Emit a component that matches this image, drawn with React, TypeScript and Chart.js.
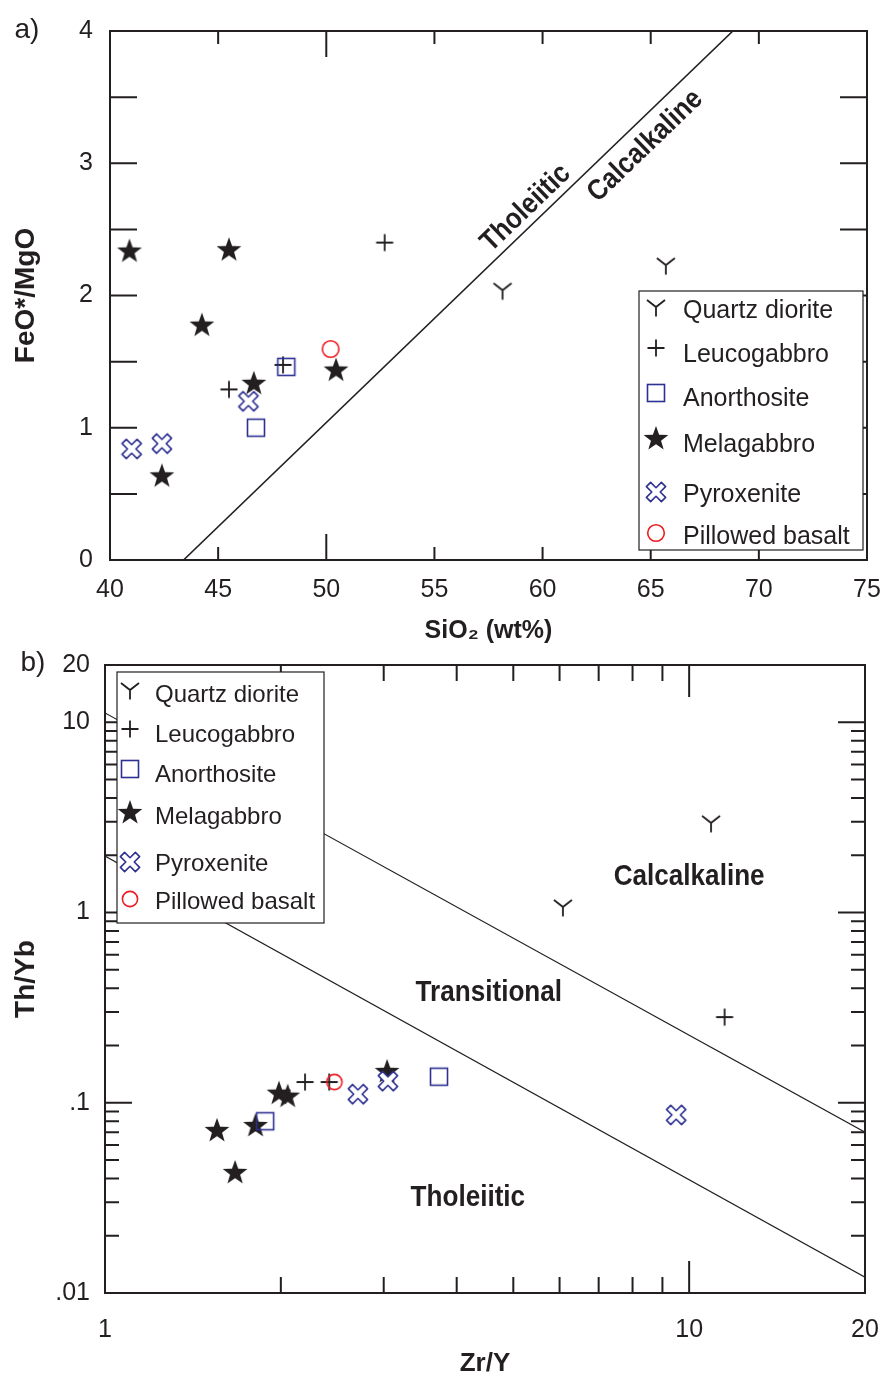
import { useEffect, useRef } from 'react';
import { Chart, registerables } from 'chart.js';

Chart.register(...registerables);

const INK = '#231F20';
const BLUE = '#2E3192';
const RED = '#ED1C24';
const FONT = "'Liberation Sans', Arial, Helvetica, sans-serif";

const SERIES_NAMES = ['Quartz diorite', 'Leucogabbro', 'Anorthosite', 'Melagabbro', 'Pyroxenite', 'Pillowed basalt'];
const SERIES_KEYS = ['quartz', 'leuco', 'anor', 'mela', 'pyro', 'pillow'];

// ---- Panel a: FeO*/MgO vs SiO2 ----
const A_QUARTZ_X = [58.15, 65.7];
const A_QUARTZ_Y = [2.04, 2.23];
const A_LEUCO_X = [52.7, 45.5, 48.0];
const A_LEUCO_Y = [2.4, 1.29, 1.475];
const A_ANOR_X = [48.15, 46.75];
const A_ANOR_Y = [1.46, 1.0];
const A_MELA_X = [40.9, 45.5, 44.25, 46.65, 50.45, 42.4];
const A_MELA_Y = [2.34, 2.35, 1.78, 1.34, 1.44, 0.64];
const A_PYRO_X = [41.0, 42.4, 46.4];
const A_PYRO_Y = [0.84, 0.88, 1.2];
const A_PILLOW_X = [50.2];
const A_PILLOW_Y = [1.595];
const A_LINE_X = [43.4, 68.8];
const A_LINE_Y = [0, 4];
const A_X_TICKS = [40, 45, 50, 55, 60, 65, 70, 75];
const A_Y_TICKS = [0, 1, 2, 3, 4];
const A_X_MARKS = [45, 50, 55, 60, 65, 70];
const A_X_LONG = [50];
const A_Y_MARKS = [0.5, 1, 1.5, 2, 2.5, 3, 3.5];

// ---- Panel b: Th/Yb vs Zr/Y ----
const B_QUARTZ_X = [10.9, 6.08];
const B_QUARTZ_Y = [2.96, 1.07];
const B_LEUCO_X = [11.5, 2.2, 2.42];
const B_LEUCO_Y = [0.282, 0.1285, 0.1285];
const B_ANOR_X = [1.88, 3.73];
const B_ANOR_Y = [0.08, 0.137];
const B_MELA_X = [1.555, 1.67, 1.81, 1.985, 2.055, 3.04];
const B_MELA_Y = [0.072, 0.0433, 0.0764, 0.113, 0.109, 0.147];
const B_PYRO_X = [2.71, 3.05, 9.5];
const B_PYRO_Y = [0.111, 0.13, 0.0863];
const B_PILLOW_X = [2.47];
const B_PILLOW_Y = [0.1285];
const B_UPPER_X = [1, 20];
const B_UPPER_Y = [11.2, 0.07];
const B_LOWER_X = [1, 20];
const B_LOWER_Y = [1.98, 0.0121];
const B_X_TICKS = [1, 10, 20];
const B_Y_TICKS = [0.01, 0.1, 1, 10, 20];
const B_Y_TICK_LABELS = ['.01', '.1', '1', '10', '20'];
const B_X_MINOR = [2, 3, 4, 5, 6, 7, 8, 9];
const B_X_MAJOR = [10];
const B_Y_MAJOR = [0.01, 0.1, 1, 10];
const B_Y_MINOR = [0.02, 0.03, 0.04, 0.05, 0.06, 0.07, 0.08, 0.09, 0.2, 0.3, 0.4, 0.5, 0.6, 0.7, 0.8, 0.9, 2, 3, 4, 5, 6, 7, 8, 9];

function pts(xs: number[], ys: number[]) {
  return xs.map((x, i) => ({ x, y: ys[i] }));
}

function makeSymbol(kind: string, circleR = 8.3): HTMLCanvasElement {
  const size = 30;
  const c = document.createElement('canvas');
  c.width = size;
  c.height = size;
  const g = c.getContext('2d') as CanvasRenderingContext2D;
  g.translate(size / 2, size / 2);
  g.lineCap = 'butt';
  if (kind === 'quartz') {
    g.strokeStyle = INK;
    g.lineWidth = 1.8;
    g.beginPath();
    g.moveTo(-9, -7);
    g.lineTo(0, 0);
    g.lineTo(9, -7);
    g.moveTo(0, 0);
    g.lineTo(0, 9.5);
    g.stroke();
  } else if (kind === 'leuco') {
    g.strokeStyle = INK;
    g.lineWidth = 1.8;
    g.beginPath();
    g.moveTo(-8.5, 0);
    g.lineTo(8.5, 0);
    g.moveTo(0, -8.5);
    g.lineTo(0, 8.5);
    g.stroke();
  } else if (kind === 'anor') {
    g.strokeStyle = BLUE;
    g.lineWidth = 1.6;
    g.strokeRect(-8.5, -8.5, 17, 17);
  } else if (kind === 'mela') {
    g.fillStyle = INK;
    g.beginPath();
    const R = 13;
    const r = 5.3;
    for (let i = 0; i < 10; i++) {
      const ang = -Math.PI / 2 + (i * Math.PI) / 5;
      const rad = i % 2 === 0 ? R : r;
      const px = rad * Math.cos(ang);
      const py = rad * Math.sin(ang) + 1;
      if (i === 0) g.moveTo(px, py);
      else g.lineTo(px, py);
    }
    g.closePath();
    g.fill();
  } else if (kind === 'pyro') {
    const a = 10.6;
    const h = 3.0;
    const p = [
      [-h, -a], [h, -a], [h, -h], [a, -h], [a, h], [h, h],
      [h, a], [-h, a], [-h, h], [-a, h], [-a, -h], [-h, -h],
    ];
    g.rotate(Math.PI / 4);
    g.beginPath();
    p.forEach(([x, y], i) => (i === 0 ? g.moveTo(x, y) : g.lineTo(x, y)));
    g.closePath();
    g.fillStyle = '#ffffff';
    g.fill();
    g.strokeStyle = BLUE;
    g.lineWidth = 1.6;
    g.lineJoin = 'round';
    g.stroke();
  } else if (kind === 'pillow') {
    g.strokeStyle = RED;
    g.lineWidth = 1.6;
    g.beginPath();
    g.arc(0, 0, circleR, 0, Math.PI * 2);
    g.stroke();
  }
  return c;
}

function markerSet(label: string, xs: number[], ys: number[], img: HTMLCanvasElement, order: number) {
  return {
    label,
    data: pts(xs, ys),
    pointStyle: img,
    pointRadius: 6,
    pointHoverRadius: 6,
    showLine: false,
    order,
  };
}

function lineSet(xs: number[], ys: number[], width: number) {
  return {
    label: 'boundary',
    data: pts(xs, ys),
    showLine: true,
    borderColor: INK,
    borderWidth: width,
    pointRadius: 0,
    pointHoverRadius: 0,
    fill: false,
    order: 20,
  };
}

function drawText(ctx: CanvasRenderingContext2D, text: string, x: number, y: number, angle: number, size: number, sx: number, bold: boolean) {
  ctx.save();
  ctx.translate(x, y);
  ctx.rotate(angle);
  ctx.scale(sx, 1);
  ctx.font = `${bold ? 'bold ' : ''}${size}px ${FONT}`;
  ctx.textAlign = 'center';
  ctx.textBaseline = 'middle';
  ctx.fillStyle = INK;
  ctx.fillText(text, 0, 0);
  ctx.restore();
}

type LegendSpec = {
  box: [number, number, number, number];
  symX: number;
  textX: number;
  symY: number[];
  textY: number[];
  size: number;
};

function drawLegend(ctx: CanvasRenderingContext2D, spec: LegendSpec, syms: Record<string, HTMLCanvasElement>) {
  const [bx, by, bw, bh] = spec.box;
  ctx.save();
  ctx.fillStyle = '#ffffff';
  ctx.fillRect(bx, by, bw, bh);
  ctx.strokeStyle = INK;
  ctx.lineWidth = 1.2;
  ctx.strokeRect(bx, by, bw, bh);
  ctx.font = `${spec.size}px ${FONT}`;
  ctx.fillStyle = INK;
  ctx.textAlign = 'left';
  ctx.textBaseline = 'alphabetic';
  SERIES_NAMES.forEach((name, i) => {
    const img = syms[SERIES_KEYS[i]];
    ctx.drawImage(img, spec.symX - img.width / 2, spec.symY[i] - img.height / 2);
    ctx.fillText(name, spec.textX, spec.textY[i] + spec.size * 0.36);
  });
  ctx.restore();
}

function hTicks(ctx: CanvasRenderingContext2D, chart: any, values: number[], lenFn: (v: number) => number) {
  const a = chart.chartArea;
  const xs = chart.scales.x;
  ctx.beginPath();
  values.forEach((v) => {
    const px = xs.getPixelForValue(v);
    const L = lenFn(v);
    ctx.moveTo(px, a.bottom);
    ctx.lineTo(px, a.bottom - L);
    ctx.moveTo(px, a.top);
    ctx.lineTo(px, a.top + L);
  });
  ctx.stroke();
}

function vTicks(ctx: CanvasRenderingContext2D, chart: any, values: number[], lenFn: (v: number) => number) {
  const a = chart.chartArea;
  const ys = chart.scales.y;
  ctx.beginPath();
  values.forEach((v) => {
    const py = ys.getPixelForValue(v);
    const L = lenFn(v);
    ctx.moveTo(a.left, py);
    ctx.lineTo(a.left + L, py);
    ctx.moveTo(a.right, py);
    ctx.lineTo(a.right - L, py);
  });
  ctx.stroke();
}

function frame(chart: any) {
  const { ctx, chartArea: a } = chart;
  ctx.save();
  ctx.strokeStyle = INK;
  ctx.lineWidth = 2;
  ctx.strokeRect(a.left, a.top, a.right - a.left, a.bottom - a.top);
  ctx.restore();
}

function fixX(h: number) {
  return (s: any) => {
    s.height = h;
    s.paddingLeft = 0;
    s.paddingRight = 0;
    s.paddingTop = 0;
    s.paddingBottom = 0;
  };
}

function fixY(w: number) {
  return (s: any) => {
    s.width = w;
    s.paddingLeft = 0;
    s.paddingRight = 0;
    s.paddingTop = 0;
    s.paddingBottom = 0;
  };
}

export default function App() {
  const refA = useRef<HTMLCanvasElement>(null);
  const refB = useRef<HTMLCanvasElement>(null);

  useEffect(() => {
    const symsA: Record<string, HTMLCanvasElement> = {};
    const symsB: Record<string, HTMLCanvasElement> = {};
    SERIES_KEYS.forEach((k) => {
      symsA[k] = makeSymbol(k, 8.3);
      symsB[k] = makeSymbol(k, 7.6);
    });

    const tickFont = { family: FONT, size: 25 };

    const pluginA = {
      id: 'frameA',
      afterDraw(chart: any) {
        const ctx = chart.ctx as CanvasRenderingContext2D;
        frame(chart);
        ctx.save();
        ctx.strokeStyle = INK;
        ctx.lineWidth = 2;
        hTicks(ctx, chart, A_X_MARKS, (v) => (A_X_LONG.includes(v) ? 26 : 13));
        vTicks(ctx, chart, A_Y_MARKS, () => 27);
        ctx.restore();
        const xs = chart.scales.x;
        const ys = chart.scales.y;
        const x0 = xs.getPixelForValue(A_LINE_X[0]);
        const y0 = ys.getPixelForValue(A_LINE_Y[0]);
        const x1 = xs.getPixelForValue(A_LINE_X[1]);
        const y1 = ys.getPixelForValue(A_LINE_Y[1]);
        const ang = Math.atan2(y1 - y0, x1 - x0);
        drawText(ctx, 'Tholeiitic', xs.getPixelForValue(59.23), ys.getPixelForValue(2.66), ang, 29, 0.88, true);
        drawText(ctx, 'Calcalkaline', xs.getPixelForValue(64.75), ys.getPixelForValue(3.13), ang, 29, 0.88, true);
        drawLegend(ctx, {
          box: [639, 291, 224, 259],
          symX: 656,
          textX: 683,
          symY: [307, 348, 393, 438, 492, 533],
          textY: [309, 353, 397, 443, 493, 535],
          size: 25,
        }, symsA);
        drawText(ctx, 'a)', 27, 30, 0, 28, 1, false);
      },
    };

    const pluginB = {
      id: 'frameB',
      afterDraw(chart: any) {
        const ctx = chart.ctx as CanvasRenderingContext2D;
        frame(chart);
        ctx.save();
        ctx.strokeStyle = INK;
        ctx.lineWidth = 2;
        hTicks(ctx, chart, [...B_X_MINOR, ...B_X_MAJOR], (v) => (B_X_MAJOR.includes(v) ? 32 : 16));
        vTicks(ctx, chart, [...B_Y_MINOR, ...B_Y_MAJOR], (v) => (B_Y_MAJOR.includes(v) ? 27 : 14));
        ctx.restore();
        const xs = chart.scales.x;
        const ys = chart.scales.y;
        drawText(ctx, 'Calcalkaline', xs.getPixelForValue(10.0), ys.getPixelForValue(1.54), 0, 30, 0.87, true);
        drawText(ctx, 'Transitional', xs.getPixelForValue(4.54), ys.getPixelForValue(0.38), 0, 30, 0.87, true);
        drawText(ctx, 'Tholeiitic', xs.getPixelForValue(4.18), ys.getPixelForValue(0.0315), 0, 30, 0.87, true);
        drawLegend(ctx, {
          box: [117, 27, 207, 251],
          symX: 130,
          textX: 155,
          symY: [45, 84, 124, 167, 217, 254],
          textY: [48, 88, 128, 170, 217, 255],
          size: 24,
        }, symsB);
        drawText(ctx, 'b)', 33, 18, 0, 28, 1, false);
      },
    };

    const commonPlugins = { legend: { display: false }, tooltip: { enabled: false } };

    const chartA = new Chart(refA.current as HTMLCanvasElement, {
      type: 'scatter',
      data: {
        datasets: [
          markerSet(SERIES_NAMES[0], A_QUARTZ_X, A_QUARTZ_Y, symsA.quartz, 5),
          markerSet(SERIES_NAMES[1], A_LEUCO_X, A_LEUCO_Y, symsA.leuco, 3),
          markerSet(SERIES_NAMES[2], A_ANOR_X, A_ANOR_Y, symsA.anor, 2),
          markerSet(SERIES_NAMES[3], A_MELA_X, A_MELA_Y, symsA.mela, 4),
          markerSet(SERIES_NAMES[4], A_PYRO_X, A_PYRO_Y, symsA.pyro, 0),
          markerSet(SERIES_NAMES[5], A_PILLOW_X, A_PILLOW_Y, symsA.pillow, 1),
          lineSet(A_LINE_X, A_LINE_Y, 1.6),
        ] as any,
      },
      options: {
        animation: false,
        responsive: false,
        devicePixelRatio: 1,
        events: [],
        layout: { padding: { top: 31, right: 16, left: 0, bottom: 0 } },
        plugins: commonPlugins as any,
        scales: {
          x: {
            type: 'linear',
            min: 40,
            max: 75,
            grid: { display: false, drawTicks: false },
            border: { display: false },
            afterBuildTicks: (s: any) => { s.ticks = A_X_TICKS.map((v) => ({ value: v })); },
            afterFit: fixX(85),
            ticks: { font: tickFont, color: INK, padding: 15, maxRotation: 0, minRotation: 0, autoSkip: false },
            title: { display: true, text: 'SiO₂ (wt%)', color: INK, font: { family: FONT, size: 25, weight: 'bold' }, padding: { top: 0, bottom: -1 } },
          },
          y: {
            type: 'linear',
            min: 0,
            max: 4,
            grid: { display: false, drawTicks: false },
            border: { display: false },
            afterBuildTicks: (s: any) => { s.ticks = A_Y_TICKS.map((v) => ({ value: v })); },
            afterFit: fixY(110),
            ticks: { font: tickFont, color: INK, padding: 17, autoSkip: false },
            title: { display: true, text: 'FeO*/MgO', color: INK, font: { family: FONT, size: 28, weight: 'bold' }, padding: { top: 9, bottom: 0 } },
          },
        },
      } as any,
      plugins: [pluginA],
    });

    const chartB = new Chart(refB.current as HTMLCanvasElement, {
      type: 'scatter',
      data: {
        datasets: [
          markerSet(SERIES_NAMES[0], B_QUARTZ_X, B_QUARTZ_Y, symsB.quartz, 5),
          markerSet(SERIES_NAMES[1], B_LEUCO_X, B_LEUCO_Y, symsB.leuco, 3),
          markerSet(SERIES_NAMES[2], B_ANOR_X, B_ANOR_Y, symsB.anor, 2),
          markerSet(SERIES_NAMES[3], B_MELA_X, B_MELA_Y, symsB.mela, 4),
          markerSet(SERIES_NAMES[4], B_PYRO_X, B_PYRO_Y, symsB.pyro, 0),
          markerSet(SERIES_NAMES[5], B_PILLOW_X, B_PILLOW_Y, symsB.pillow, 1),
          lineSet(B_UPPER_X, B_UPPER_Y, 1.1),
          lineSet(B_LOWER_X, B_LOWER_Y, 1.1),
        ] as any,
      },
      options: {
        animation: false,
        responsive: false,
        devicePixelRatio: 1,
        events: [],
        layout: { padding: { top: 20, right: 18, left: 0, bottom: 0 } },
        plugins: commonPlugins as any,
        scales: {
          x: {
            type: 'logarithmic',
            min: 1,
            max: 20,
            grid: { display: false, drawTicks: false },
            border: { display: false },
            afterBuildTicks: (s: any) => { s.ticks = B_X_TICKS.map((v) => ({ value: v })); },
            afterFit: fixX(83),
            ticks: { font: tickFont, color: INK, padding: 22, maxRotation: 0, minRotation: 0, autoSkip: false, callback: (v: any) => String(v) },
            title: { display: true, text: 'Zr/Y', color: INK, font: { family: FONT, size: 26, weight: 'bold' }, padding: { top: 0, bottom: -3 } },
          },
          y: {
            type: 'logarithmic',
            min: 0.01,
            max: 20,
            grid: { display: false, drawTicks: false },
            border: { display: false },
            afterBuildTicks: (s: any) => { s.ticks = B_Y_TICKS.map((v) => ({ value: v })); },
            afterFit: fixY(105),
            ticks: {
              font: tickFont,
              color: INK,
              padding: 15,
              autoSkip: false,
              callback: (v: any) => {
                const i = B_Y_TICKS.findIndex((t) => Math.abs(t - Number(v)) < 1e-9);
                return i >= 0 ? B_Y_TICK_LABELS[i] : '';
              },
            },
            title: { display: true, text: 'Th/Yb', color: INK, font: { family: FONT, size: 28, weight: 'bold' }, padding: { top: 9, bottom: 0 } },
          },
        },
      } as any,
      plugins: [pluginB],
    });

    return () => {
      chartA.destroy();
      chartB.destroy();
    };
  }, []);

  return (
    <div style={{ position: 'absolute', left: 0, top: 0, width: 883, height: 1376, background: '#ffffff', overflow: 'hidden' }}>
      <canvas ref={refA} width={883} height={645} style={{ position: 'absolute', left: 0, top: 0, width: 883, height: 645 }} />
      <canvas ref={refB} width={883} height={731} style={{ position: 'absolute', left: 0, top: 645, width: 883, height: 731 }} />
    </div>
  );
}
